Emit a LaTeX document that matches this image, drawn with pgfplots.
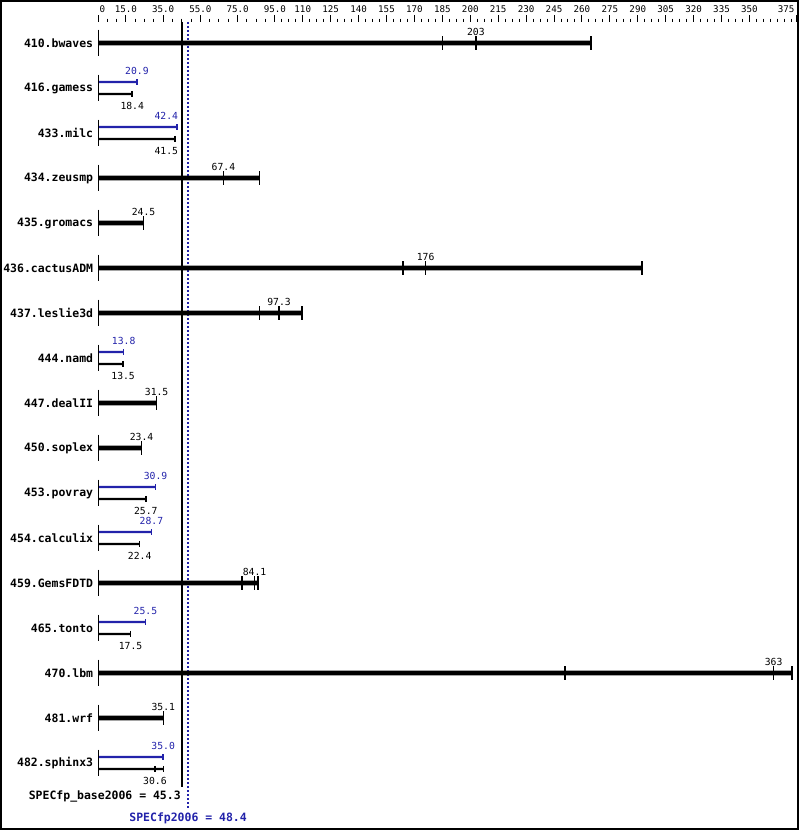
\documentclass[border=0pt]{standalone}
\usepackage{pgfplots}
\pgfplotsset{compat=1.18}
\usepackage{fontspec}
\setmonofont{DejaVu Sans Mono}
\definecolor{specblue}{RGB}{34,34,170}
\newcommand{\ticklabfont}{\ttfamily\fontsize{6.9}{8}\selectfont}
\newcommand{\datafont}{\ttfamily\fontsize{7.3}{8}\selectfont}
\newcommand{\namefont}{\ttfamily\bfseries\fontsize{8.6}{10}\selectfont}
\begin{document}
\begin{tikzpicture}
\useasboundingbox (0,0) rectangle (599.25pt,-623.25pt);
\draw[line width=1.5pt] (0.75pt,-0.75pt) rectangle (598.5pt,-621.75pt);
\begin{axis}[
  at={(73.5pt,-16.5pt)}, anchor=north west,
  scale only axis, width=523.5pt, height=573.75pt,
  xmin=0, xmax=375, ymin=-16.5333, ymax=0.4667,
  axis x line*=top, axis y line*=left,
  axis line style={draw=none},
  tick align=outside,
  xtick={0,15,35,55,75,95,110,125,...,350,375},
  xticklabels={\makebox[0pt][l]{\,0},15.0,35.0,55.0,75.0,95.0,110,125,140,155,170,185,200,215,230,245,260,275,290,305,320,335,350,\makebox[0pt][r]{375\,}},
  minor xtick={5,10,...,95,98.75,102.5,...,375},
  major tick length=5pt, minor tick length=2.5pt,
  xtick style={black, line width=0.75pt},
  xticklabel style={font=\ticklabfont, inner sep=1pt, yshift=1pt},
  ytick={-16,-15,...,0},
  yticklabels={482.sphinx3,481.wrf,470.lbm,465.tonto,459.GemsFDTD,454.calculix,453.povray,450.soplex,447.dealII,444.namd,437.leslie3d,436.cactusADM,435.gromacs,434.zeusmp,433.milc,416.gamess,410.bwaves},
  ytick style={draw=none},
  yticklabel style={font=\namefont, inner sep=0pt, xshift=1.5pt},
  clip=false,
]
% reference lines
\addplot[black, line width=1.5pt] coordinates {(45.3,0.4667) (45.3,-16.5333)};
\addplot[specblue, line width=1.5pt, dash pattern=on 1.5pt off 1.5pt] coordinates {(48.4,0.4667) (48.4,-17.0)};
% left base ticks
\addplot[only marks, mark=|, mark size=10.1pt, line width=0.75pt, black] coordinates {
(0,0) (0,-1) (0,-2) (0,-3) (0,-4) (0,-5) (0,-6) (0,-7) (0,-8) (0,-9) (0,-10) (0,-11) (0,-12) (0,-13) (0,-14) (0,-15) (0,-16)};
% thick bars (base = peak)
\addplot[xbar, bar shift=0pt, bar width=3.4pt, fill=black, draw=none] coordinates {
(265,0) (86.8,-3) (24.5,-4) (292.3,-5) (109.6,-6) (31.5,-8) (23.4,-9) (85.8,-12) (372.7,-14) (35.1,-15)};
\addplot[only marks, mark=|, mark size=4.9pt, line width=1.2pt, black] coordinates {
(185,0) (203,0) (265,0) (67.4,-3) (86.8,-3) (24.5,-4) (164,-5) (176,-5) (292.3,-5) (86.8,-6) (97.3,-6) (109.6,-6) (31.5,-8) (23.4,-9) (77.5,-12) (84.1,-12) (85.8,-12) (251,-14) (363,-14) (372.7,-14) (35.1,-15)};
\addplot[only marks, mark=none, point meta=explicit symbolic, nodes near coords,
  every node near coord/.append style={anchor=center, yshift=8.25pt, font=\datafont, text=black}] coordinates {
(203,0) [203] (67.4,-3) [67.4] (24.5,-4) [24.5] (176,-5) [176] (97.3,-6) [97.3] (31.5,-8) [31.5] (23.4,-9) [23.4] (84.1,-12) [84.1] (363,-14) [363] (35.1,-15) [35.1]};
% peak bars (blue)
\addplot[xbar, bar shift=0pt, bar width=1.75pt, fill=specblue, draw=none] coordinates {
(20.9,-0.867) (42.4,-1.867) (13.8,-6.867) (30.9,-9.867) (28.7,-10.867) (25.5,-12.867) (35.0,-15.867)};
\addplot[only marks, mark=|, mark size=2.1pt, line width=1.2pt, specblue] coordinates {
(20.9,-0.867) (42.4,-1.867) (13.8,-6.867) (30.9,-9.867) (28.7,-10.867) (25.5,-12.867) (35.0,-15.867)};
\addplot[only marks, mark=none, point meta=explicit symbolic, nodes near coords,
  every node near coord/.append style={anchor=center, yshift=8pt, font=\datafont, text=specblue}] coordinates {
(20.9,-0.867) [20.9] (36.7,-1.867) [42.4] (13.8,-6.867) [13.8] (30.9,-9.867) [30.9] (28.7,-10.867) [28.7] (25.5,-12.867) [25.5] (35.0,-15.867) [35.0]};
% base bars (black, thin)
\addplot[xbar, bar shift=0pt, bar width=1.75pt, fill=black, draw=none] coordinates {
(18.4,-1.133) (41.5,-2.133) (13.5,-7.133) (25.7,-10.133) (22.4,-11.133) (17.5,-13.133) (35.1,-16.133)};
\addplot[only marks, mark=|, mark size=2.4pt, line width=1.2pt, black] coordinates {
(18.4,-1.133) (41.5,-2.133) (13.5,-7.133) (25.7,-10.133) (22.4,-11.133) (17.5,-13.133) (30.6,-16.133) (35.1,-16.133)};
\addplot[only marks, mark=none, point meta=explicit symbolic, nodes near coords,
  every node near coord/.append style={anchor=center, yshift=-8.8pt, font=\datafont, text=black}] coordinates {
(18.4,-1.133) [18.4] (36.7,-2.133) [41.5] (13.5,-7.133) [13.5] (25.7,-10.133) [25.7] (22.4,-11.133) [22.4] (17.5,-13.133) [17.5] (30.6,-16.133) [30.6]};
% summary texts
\node[anchor=east, inner sep=0pt, xshift=-1pt, font=\namefont] at (axis cs:45.3,-16.75) {SPECfp\_base2006 = 45.3};
\node[anchor=center, inner sep=0pt, font=\namefont, text=specblue] at (axis cs:48.4,-17.22) {SPECfp2006 = 48.4};
\end{axis}
\end{tikzpicture}
\end{document}
